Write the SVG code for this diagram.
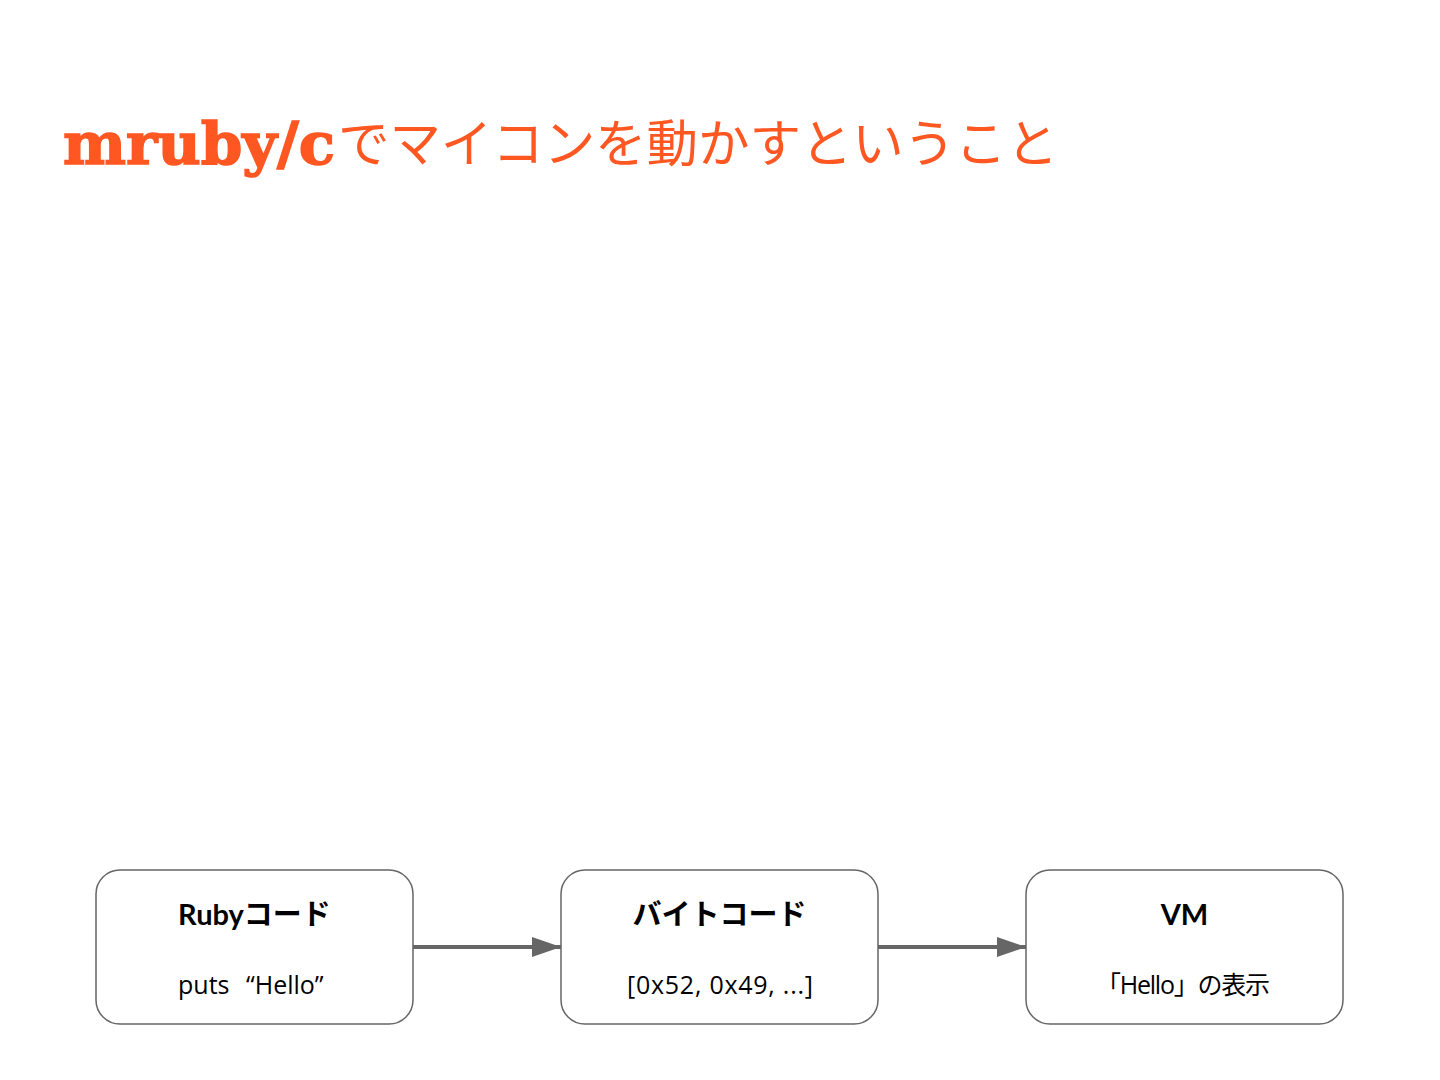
<svg xmlns="http://www.w3.org/2000/svg" width="1440" height="1080" viewBox="0 0 1440 1080">
<defs>
<style>
.title-en{font-family:"DejaVu Serif","Liberation Serif",serif;font-weight:900;fill:#FF5722;stroke:#FF5722;stroke-width:1.5;}
.title-jp{font-family:"Noto Sans CJK JP",sans-serif;font-weight:400;fill:#FF5722;}
.box{fill:#ffffff;stroke:#666666;stroke-width:1.5;}
.head{font-family:Lato,"Noto Sans CJK JP",sans-serif;font-weight:700;font-size:29px;fill:#000000;text-anchor:middle;}
.sub{font-family:"Open Sans","Noto Sans CJK JP",sans-serif;font-weight:400;font-size:25px;fill:#000000;}
.mid{text-anchor:middle;}
.conn{stroke:#666666;stroke-width:4;fill:none;}
</style>
<marker id="arrow" markerWidth="30" markerHeight="20" refX="29" refY="10" orient="auto" markerUnits="userSpaceOnUse">
<path d="M0,0 L29,10 L0,20 Z" fill="#666666"/>
</marker>
</defs>
<rect width="1440" height="1080" fill="#ffffff"/>
<g id="title">
<text x="63" y="164" class="title-en" font-size="58" textLength="272" lengthAdjust="spacingAndGlyphs">mruby/c</text>
<text x="338" y="162" class="title-jp" font-size="51.5" textLength="720" lengthAdjust="spacing">でマイコンを動かすということ</text>
</g>
<g id="connectors">
<line x1="413" y1="947" x2="561" y2="947" class="conn" marker-end="url(#arrow)"/>
<line x1="878" y1="947" x2="1026" y2="947" class="conn" marker-end="url(#arrow)"/>
</g>
<g id="node-ruby">
<rect x="96" y="870" width="317" height="154" rx="24" class="box"/>
<text x="254.5" y="925" class="head">Rubyコード</text>
<text y="994" class="sub"><tspan x="178">puts</tspan><tspan x="246">“Hello”</tspan></text>
</g>
<g id="node-bytecode">
<rect x="561" y="870" width="317" height="154" rx="24" class="box"/>
<text x="719.5" y="925" class="head">バイトコード</text>
<text x="720" y="994" class="sub mid" textLength="186" lengthAdjust="spacing">[0x52, 0x49, ...]</text>
</g>
<g id="node-vm">
<rect x="1026" y="870" width="317" height="154" rx="24" class="box"/>
<text x="1184.5" y="925" class="head">VM</text>
<text x="1183" y="994" class="sub mid" textLength="174" lengthAdjust="spacing">「Hello」の表示</text>
</g>
</svg>
